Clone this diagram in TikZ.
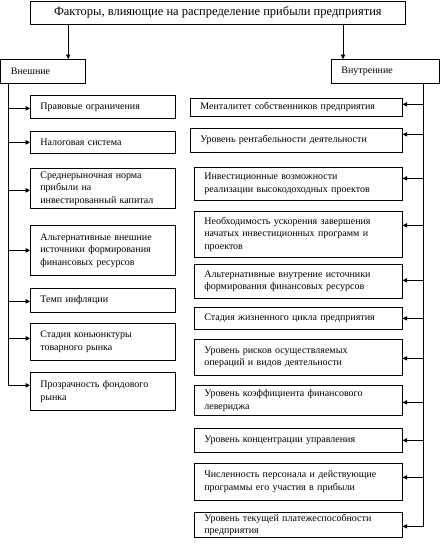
\documentclass[tikz,border=0pt]{standalone}
\usepackage{fontspec}
\setmainfont{Liberation Serif}
\usetikzlibrary{arrows.meta,positioning}

\begin{document}
\begin{tikzpicture}[x=1pt,y=-1pt,>={Triangle[length=4.5pt,width=4.5pt]},
  box/.style={draw,line width=0.7pt,anchor=north west,align=left,
    inner xsep=10pt,inner ysep=0pt,font=\fontsize{10}{12.5}\selectfont},
  lbox/.style={box,text width=125pt},
  rbox/.style={box,text width=188pt},
  arr/.style={->,line width=0.7pt}]
  \useasboundingbox (0,0) rectangle (440,547);

  % top level
  \node[draw,line width=0.7pt,anchor=north west,minimum width=375pt,minimum height=23pt,
    inner sep=0pt,font=\fontsize{12.5}{14}\selectfont] (title) at (30,1)
    {Факторы, влияющие на распределение прибыли предприятия};
  \node[box,minimum width=84pt,minimum height=24pt,text width=64pt] (outer) at (0.5,59) {Внешние};
  \node[box,minimum width=108pt,minimum height=24pt,text width=88pt] (inner) at (331,59) {Внутренние};

  \coordinate (outtop) at ([xshift=-17pt]outer.north east);
  \coordinate (intop) at ([xshift=12pt]inner.north west);
  \draw[arr] (title.south -| outtop) -- (outtop);
  \draw[arr] (title.south -| intop) -- (intop);

  % external factors
  \node[lbox,minimum height=23pt] (L1) at (30,95) {Правовые ограничения};
  \node[lbox,minimum height=22pt] (L2) at (30,131) {Налоговая система};
  \node[lbox,minimum height=40pt] (L3) at (30,168) {Среднерыночная норма\\прибыли на\\инвестированный капитал};
  \node[lbox,minimum height=50pt] (L4) at (30,225) {Альтернативные внешние\\источники формирования\\финансовых ресурсов};
  \node[lbox,minimum height=24pt] (L5) at (30,288) {Темп инфляции};
  \node[lbox,minimum height=37pt] (L6) at (30,323) {Стадия коньюнктуры\\товарного рынка};
  \node[lbox,minimum height=38pt] (L7) at (30,372) {Прозрачность фондового\\рынка};

  \coordinate (lspine) at ([xshift=8pt]outer.south west);
  \coordinate (lend) at ([shift={(-22pt,6pt)}]L7.west);
  \draw[line width=0.7pt] (lspine) -- (lspine |- lend);
  \draw[arr] ([shift={(-22pt,-1.5pt)}]L1.west) -- ([yshift=-1.5pt]L1.west);
  \draw[arr] ([xshift=-22pt]L2.west) -- (L2.west);
  \draw[arr] ([shift={(-22pt,-2pt)}]L3.west) -- ([yshift=-2pt]L3.west);
  \draw[arr] ([xshift=-22pt]L4.west) -- (L4.west);
  \draw[arr] ([shift={(-22pt,-1pt)}]L5.west) -- ([yshift=-1pt]L5.west);
  \draw[arr] ([shift={(-22pt,3.5pt)}]L6.west) -- ([yshift=3.5pt]L6.west);
  \draw[arr] (lend) -- ([yshift=6pt]L7.west);

  % internal factors
  \node[rbox,text width=192pt,minimum height=18pt] (R1) at (190,98) {Менталитет собственников предприятия};
  \node[rbox,text width=192pt,minimum height=24pt] (R2) at (190,128) {Уровень рентабельности деятельности};
  \node[rbox,minimum height=33pt] (R3) at (194,167) {Инвестиционные возможности\\реализации высокодоходных проектов};
  \node[rbox,minimum height=46pt] (R4) at (194,211) {Необходимость ускорения завершения\\начатых инвестиционных программ и\\проектов};
  \node[rbox,minimum height=34pt] (R5) at (194,264) {Альтернативные внутрение источники\\формирования финансовых ресурсов};
  \node[rbox,minimum height=22pt] (R6) at (194,307) {Стадия жизненного цикла предприятия};
  \node[rbox,minimum height=36pt] (R7) at (194,339) {Уровень рисков осуществляемых\\операций и видов деятельности};
  \node[rbox,minimum height=30pt] (R8) at (194,385) {Уровень коэффициента финансового\\левериджа};
  \node[rbox,minimum height=24pt] (R9) at (194,428) {Уровень концентрации управления};
  \node[rbox,minimum height=37pt] (R10) at (194,463) {Численность персонала и действующие\\программы его участия в прибыли};
  \node[rbox,minimum height=25pt] (R11) at (194,512) {Уровень текущей платежеспособности\\предприятия};

  \coordinate (rspine) at ([xshift=-16pt]inner.south east);
  \coordinate (rend) at ([shift={(21pt,-1.5pt)}]R11.east);
  \draw[line width=0.7pt] (rspine) -- (rspine |- rend);
  \draw[arr] ([shift={(21pt,3pt)}]R1.east) -- ([yshift=3pt]R1.east);
  \draw[arr] ([shift={(21pt,6pt)}]R2.east) -- ([yshift=6pt]R2.east);
  \draw[arr] ([shift={(21pt,5.5pt)}]R3.east) -- ([yshift=5.5pt]R3.east);
  \draw[arr] ([shift={(21pt,9pt)}]R4.east) -- ([yshift=9pt]R4.east);
  \draw[arr] ([shift={(21pt,1pt)}]R5.east) -- ([yshift=1pt]R5.east);
  \draw[arr] ([xshift=21pt]R6.east) -- (R6.east);
  \draw[arr] ([shift={(21pt,-1pt)}]R7.east) -- ([yshift=-1pt]R7.east);
  \draw[arr] ([shift={(21pt,-2pt)}]R8.east) -- ([yshift=-2pt]R8.east);
  \draw[arr] ([xshift=21pt]R9.east) -- (R9.east);
  \draw[arr] ([shift={(21pt,4.5pt)}]R10.east) -- ([yshift=4.5pt]R10.east);
  \draw[arr] (rend) -- ([yshift=-1.5pt]R11.east);
\end{tikzpicture}
\end{document}
